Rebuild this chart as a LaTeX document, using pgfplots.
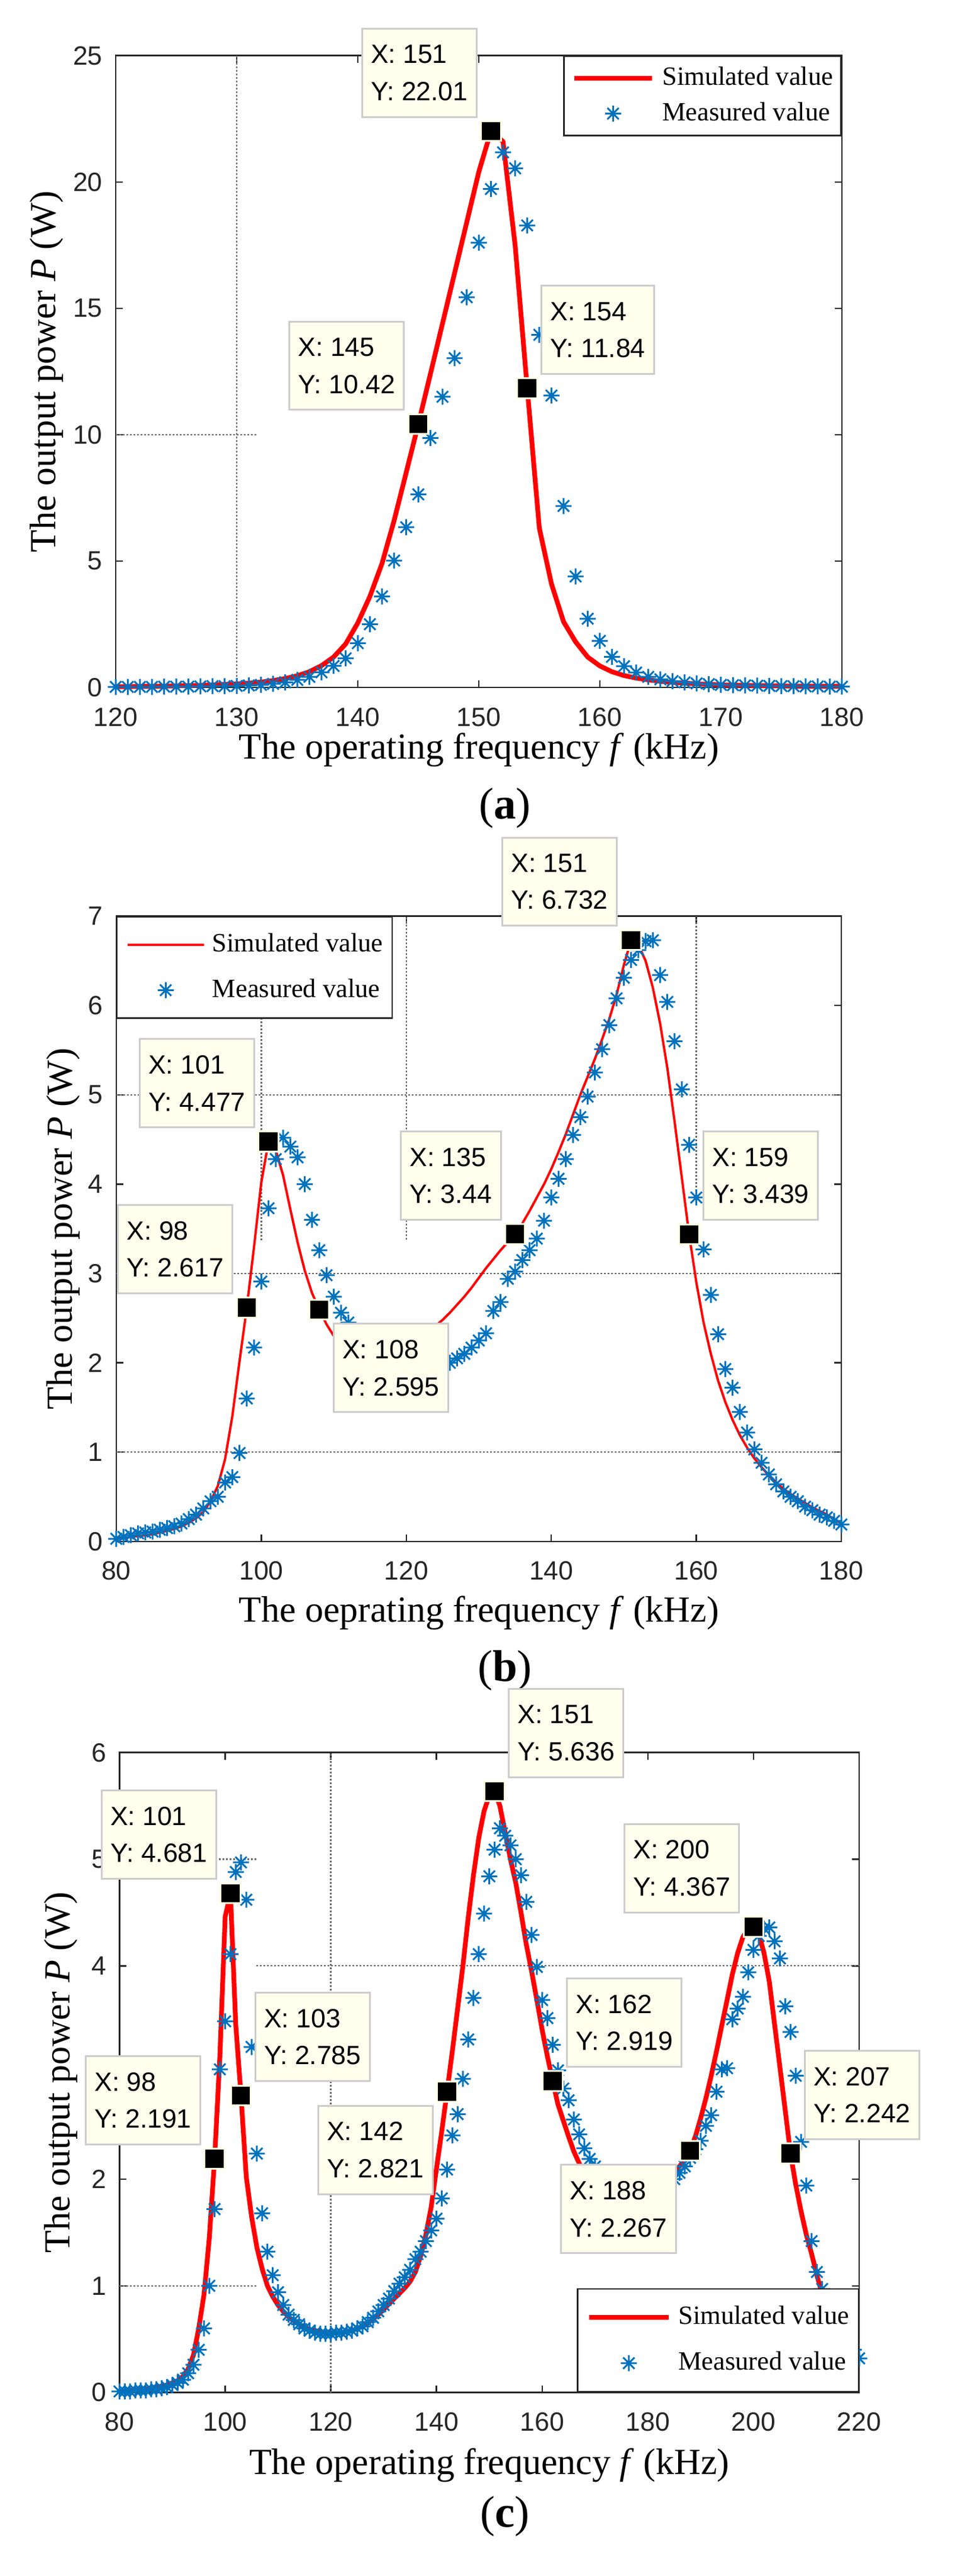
\documentclass[border=0pt]{standalone}
\usepackage{fontspec}
\setmainfont{Liberation Serif}
\newfontfamily\arialf{Liberation Sans}
\usepackage{pgfplots}
\pgfplotsset{compat=1.18}

\definecolor{axcol}{rgb}{0.15,0.15,0.15}
\definecolor{mblue}{rgb}{0,0.447,0.741}
\definecolor{tipfill}{rgb}{1,1,0.93}
\definecolor{tipedge}{rgb}{0.8,0.8,0.8}
\definecolor{sqedge}{rgb}{1,1,0.88}
\definecolor{gridc}{rgb}{0.4,0.4,0.4}

\newcommand\tickfont{\arialf\fontsize{8.9}{10}\selectfont}
\newcommand\tipfont{\arialf\fontsize{8.9}{12.5}\selectfont}
\newcommand\legfont{\fontsize{8.9}{10}\selectfont}
\newcommand\labfont{\fontsize{12.4}{14}\selectfont}
\newcommand\capfont{\fontsize{15}{18}\selectfont}

% MATLAB style asterisk (plus and cross)
\pgfdeclareplotmark{ast8}{%
  \pgfpathmoveto{\pgfqpoint{-\pgfplotmarksize}{0pt}}%
  \pgfpathlineto{\pgfqpoint{\pgfplotmarksize}{0pt}}%
  \pgfpathmoveto{\pgfqpoint{0pt}{-\pgfplotmarksize}}%
  \pgfpathlineto{\pgfqpoint{0pt}{\pgfplotmarksize}}%
  \pgfpathmoveto{\pgfqpoint{-0.7071\pgfplotmarksize}{-0.7071\pgfplotmarksize}}%
  \pgfpathlineto{\pgfqpoint{0.7071\pgfplotmarksize}{0.7071\pgfplotmarksize}}%
  \pgfpathmoveto{\pgfqpoint{-0.7071\pgfplotmarksize}{0.7071\pgfplotmarksize}}%
  \pgfpathlineto{\pgfqpoint{0.7071\pgfplotmarksize}{-0.7071\pgfplotmarksize}}%
  \pgfusepathqstroke}

\pgfplotsset{
  matax/.style={scale only axis, anchor=south west, clip=false,
    axis line style={draw=axcol, line width=0.5pt},
    tick style={draw=axcol, line width=0.5pt},
    major tick length=2.4pt, tick align=inside, tick pos=both,
    ticklabel style={font=\tickfont, text=axcol},
    xticklabel style={inner sep=0pt, yshift=-6.6pt},
    yticklabel style={inner sep=0pt, xshift=-4.3pt},
    /pgf/number format/assume math mode=true,
    legend cell align=left},
  matleg/.style n args={5}{legend style={draw=axcol, line width=0.5pt, fill=white,
      font=\legfont, inner xsep=#1, inner ysep=#2, row sep=#3, column sep=#4,
      nodes={inner sep=0pt}},
    legend image code/.code={\draw[mark repeat=2,mark phase=2,##1]
      plot coordinates {(0pt,0pt) (#5/2,0pt) (#5,0pt)};}},
  gridln/.style={forget plot, gridc, line width=0.45pt, dash pattern=on 0.6pt off 0.6pt},
  simthick/.style={red, line width=1.6pt, line join=round, mark=none},
  simthin/.style={red, line width=0.8pt, line join=round, mark=none},
  meas/.style={only marks, mark=ast8, mark size=2.7pt, mblue, mark options={line width=0.6pt}},
  tipsq/.style={forget plot, only marks, mark=square*, mark size=3.35pt,
    mark options={fill=black, draw=sqedge, line width=0.6pt}}
}
\tikzset{
  dtip/.style={draw=tipedge, line width=0.6pt, fill=tipfill, font=\tipfont, align=left,
    inner xsep=3pt, inner ysep=5.5pt, text=black},
  tipNW/.style={dtip, anchor=south east, xshift=-4.5pt, yshift=4.5pt},
  tipNE/.style={dtip, anchor=south west, xshift=4.5pt, yshift=4.5pt},
  tipSW/.style={dtip, anchor=north east, xshift=-4.5pt, yshift=-4.5pt},
  tipSE/.style={dtip, anchor=north west, xshift=4.5pt, yshift=-4.5pt}
}

\begin{document}
\begin{tikzpicture}
\useasboundingbox (0,0) rectangle (323.4pt,868.6pt);

%% ---------------- (a) ----------------
\begin{axis}[matax, at={(39pt,636.8pt)}, width=244.8pt, height=213.04pt,
  xmin=120, xmax=180, ymin=0, ymax=25,
  xtick={120,130,...,180}, ytick={0,5,...,25},
  matleg={2.7pt}{3.6pt}{4.2pt}{2.7pt}{26.2pt},
  legend style={at={(1,1)}, anchor=north east}]
\addplot[gridln] coordinates {(130,0)(130,25)};
\addplot[gridln] coordinates {(120,10)(131.6,10)};
\addplot[simthick] coordinates {
(120,0.03)(121,0.03)(122,0.04)(123,0.04)(124,0.05)(125,0.06)(126,0.07)(127,0.08)(128,0.1)(129,0.12)
(130,0.14)(131,0.17)(132,0.21)(133,0.27)(134,0.35)(135,0.46)(136,0.62)(137,0.86)(138,1.2)(139,1.72)
(140,2.55)(141,3.6)(142,4.9)(143,6.6)(144,8.5)(145,10.42)(146,12.4)(147,14.4)(148,16.4)(149,18.4)
(150,20.4)(151,22.01)(152,21.6)(153,17.5)(154,11.84)(155,6.3)(156,4.1)(157,2.6)(158,1.8)(159,1.2)
(160,0.85)(161,0.62)(162,0.47)(163,0.37)(164,0.3)(165,0.24)(166,0.2)(167,0.17)(168,0.14)(169,0.12)
(170,0.1)(171,0.09)(172,0.08)(173,0.07)(174,0.06)(175,0.06)(176,0.05)(177,0.05)(178,0.04)(179,0.04)(180,0.04)};
\addplot[meas] coordinates {
(120,0.02)(121,0.02)(122,0.02)(123,0.02)(124,0.03)(125,0.03)(126,0.03)(127,0.04)(128,0.05)(129,0.05)
(130,0.06)(131,0.08)(132,0.1)(133,0.14)(134,0.2)(135,0.3)(136,0.42)(137,0.6)(138,0.85)(139,1.15)
(140,1.75)(141,2.5)(142,3.6)(143,5.02)(144,6.34)(145,7.64)(146,9.87)(147,11.5)(148,13.03)(149,15.44)
(150,17.6)(151,19.72)(152,21.17)(153,20.54)(154,18.28)(155,13.95)(156,11.55)(157,7.18)(158,4.39)(159,2.72)
(160,1.84)(161,1.21)(162,0.84)(163,0.59)(164,0.42)(165,0.32)(166,0.25)(167,0.2)(168,0.16)(169,0.13)
(170,0.1)(171,0.09)(172,0.08)(173,0.07)(174,0.06)(175,0.05)(176,0.05)(177,0.04)(178,0.04)(179,0.03)(180,0.03)};
\addplot[tipsq] coordinates {(145,10.42)(151,22.01)(154,11.84)};
\coordinate (a145) at (axis cs:145,10.42);
\coordinate (a151) at (axis cs:151,22.01);
\coordinate (a154) at (axis cs:154,11.84);
\legend{Simulated value, Measured value}
\end{axis}
\node[tipNW] at (a151) {X: 151\\Y: 22.01};
\node[tipNW] at (a145) {X: 145\\Y: 10.42};
\node[tipNE] at (a154) {X: 154\\Y: 11.84};
\node[font=\labfont, anchor=base] at (161.4pt,612.6pt) {The operating frequency \textit{f} (kHz)};
\node[font=\labfont, anchor=base, rotate=90] at (18.6pt,743.32pt) {The output power \textit{P} (W)};
\node[font=\capfont, anchor=base] at (170.2pt,592.4pt) {(\textbf{a})};

%% ---------------- (b) ----------------
\begin{axis}[matax, at={(39.2pt,348.84pt)}, width=244.4pt, height=210.84pt,
  xmin=80, xmax=180, ymin=0, ymax=7,
  xtick={80,100,...,180}, ytick={0,1,...,7},
  matleg={3.1pt}{5.6pt}{7.6pt}{2.4pt}{25.8pt},
  legend style={at={(0,1)}, anchor=north west}]
\addplot[gridln] coordinates {(80,1)(180,1)};
\addplot[gridln] coordinates {(80,3)(180,3)};
\addplot[gridln] coordinates {(80,5)(180,5)};
\addplot[gridln] coordinates {(100,3.37)(100,7)};
\addplot[gridln] coordinates {(120,3.38)(120,7)};
\addplot[gridln] coordinates {(160,3.8)(160,7)};
\addplot[simthin] coordinates {
(80,0.03)(81,0.04)(82,0.05)(83,0.06)(84,0.07)(85,0.08)(86,0.1)(87,0.12)(88,0.14)(89,0.17)
(90,0.21)(91,0.26)(92,0.33)(93,0.45)(94,0.62)(95,0.92)(96,1.4)(97,2.02)(98,2.617)(99,3.3)
(100,4.02)(101,4.477)(102,4.38)(103,4.1)(104,3.72)(105,3.35)(106,3.03)(107,2.78)(108,2.595)(109,2.43)
(110,2.3)(111,2.22)(112,2.17)(113,2.14)(114,2.13)(115,2.13)(116,2.14)(117,2.16)(118,2.18)(119,2.21)
(120,2.24)(121,2.27)(122,2.31)(123,2.35)(124,2.41)(125,2.48)(126,2.56)(127,2.65)(128,2.74)(129,2.84)
(130,2.95)(131,3.06)(132,3.16)(133,3.26)(134,3.35)(135,3.44)(136,3.56)(137,3.7)(138,3.85)(139,4.0)
(140,4.17)(141,4.36)(142,4.56)(143,4.78)(144,5.0)(145,5.2)(146,5.4)(147,5.62)(148,5.85)(149,6.12)
(150,6.45)(151,6.732)(152,6.68)(153,6.5)(154,6.2)(155,5.8)(156,5.3)(157,4.7)(158,4.07)(159,3.439)
(160,2.9)(161,2.45)(162,2.1)(163,1.8)(164,1.56)(165,1.36)(166,1.19)(167,1.05)(168,0.93)(169,0.83)
(170,0.74)(171,0.66)(172,0.59)(173,0.53)(174,0.48)(175,0.43)(176,0.38)(177,0.34)(178,0.3)(179,0.25)(180,0.2)};
\addplot[meas] coordinates {
(80,0.03)(81,0.05)(82,0.07)(83,0.09)(84,0.1)(85,0.11)(86,0.13)(87,0.15)(88,0.17)(89,0.2)
(90,0.25)(91,0.3)(92,0.37)(93,0.45)(94,0.5)(95,0.66)(96,0.72)(97,0.99)(98,1.6)(99,2.17)
(100,2.91)(101,3.73)(102,4.28)(103,4.52)(104,4.42)(105,4.3)(106,4.0)(107,3.6)(108,3.26)(109,2.98)
(110,2.74)(111,2.56)(112,2.45)(113,2.35)(114,2.27)(115,2.2)(116,2.14)(117,2.09)(118,2.05)(119,2.02)
(120,2.0)(121,1.98)(122,1.97)(123,1.97)(124,1.97)(125,1.98)(126,2.0)(127,2.05)(128,2.1)(129,2.17)
(130,2.25)(131,2.33)(132,2.58)(133,2.68)(134,2.94)(135,3.02)(136,3.15)(137,3.26)(138,3.39)(139,3.59)
(140,3.85)(141,4.06)(142,4.28)(143,4.55)(144,4.75)(145,4.98)(146,5.25)(147,5.51)(148,5.78)(149,6.08)
(150,6.31)(151,6.51)(152,6.62)(153,6.72)(154,6.73)(155,6.34)(156,6.04)(157,5.6)(158,5.06)(159,4.44)
(160,3.85)(161,3.27)(162,2.76)(163,2.32)(164,1.93)(165,1.72)(166,1.45)(167,1.22)(168,1.03)(169,0.88)
(170,0.75)(171,0.64)(172,0.56)(173,0.5)(174,0.45)(175,0.39)(176,0.35)(177,0.3)(178,0.27)(179,0.23)(180,0.19)};
\addplot[tipsq] coordinates {(98,2.617)(101,4.477)(108,2.595)(135,3.44)(151,6.732)(159,3.439)};
\coordinate (b98) at (axis cs:98,2.617);
\coordinate (b101) at (axis cs:101,4.477);
\coordinate (b108) at (axis cs:108,2.595);
\coordinate (b135) at (axis cs:135,3.44);
\coordinate (b151) at (axis cs:151,6.732);
\coordinate (b159) at (axis cs:159,3.439);
\legend{Simulated value, Measured value}
\end{axis}
\node[tipNW] at (b151) {X: 151\\Y: 6.732};
\node[tipNW] at (b101) {X: 101\\Y: 4.477};
\node[tipNW] at (b98) {X: 98\\Y: 2.617};
\node[tipSE] at (b108) {X: 108\\Y: 2.595};
\node[tipNW] at (b135) {X: 135\\Y: 3.44};
\node[tipNE] at (b159) {X: 159\\Y: 3.439};
\node[font=\labfont, anchor=base] at (161.4pt,321.64pt) {The oeprating frequency \textit{f} (kHz)};
\node[font=\labfont, anchor=base, rotate=90] at (24.2pt,454.26pt) {The output power \textit{P} (W)};
\node[font=\capfont, anchor=base] at (170.2pt,301.6pt) {(\textbf{b})};

%% ---------------- (c) ----------------
\begin{axis}[matax, at={(40.28pt,61.88pt)}, width=249.32pt, height=215.78pt,
  xmin=80, xmax=220, ymin=0, ymax=6,
  xtick={80,100,...,220}, ytick={0,1,...,6},
  matleg={3.1pt}{5.8pt}{7.7pt}{2.5pt}{26.8pt},
  legend style={at={(1,0)}, anchor=south east}]
\addplot[gridln] coordinates {(120,0)(120,6)};
\addplot[gridln] coordinates {(105.9,4)(220,4)};
\addplot[gridln] coordinates {(80,5)(105.9,5)};
\addplot[gridln] coordinates {(80,1)(105.9,1)};
\addplot[simthick] coordinates {
(80,0.01)(81,0.01)(82,0.02)(83,0.02)(84,0.03)(85,0.03)(86,0.04)(87,0.05)(88,0.06)(89,0.07)
(90,0.09)(91,0.11)(92,0.15)(93,0.22)(94,0.35)(95,0.6)(96,0.92)(97,1.45)(98,2.191)(99,3.15)
(100,4.46)(101,4.681)(102,3.45)(103,2.785)(104,2.02)(105,1.65)(106,1.36)(107,1.16)(108,1.0)(109,0.9)
(110,0.82)(111,0.76)(112,0.71)(113,0.67)(114,0.64)(115,0.61)(116,0.59)(117,0.58)(118,0.57)(119,0.56)
(120,0.56)(121,0.56)(122,0.56)(123,0.57)(124,0.58)(125,0.6)(126,0.62)(127,0.65)(128,0.69)(129,0.73)
(130,0.78)(131,0.83)(132,0.88)(133,0.93)(134,0.98)(135,1.04)(136,1.13)(137,1.28)(138,1.48)(139,1.74)
(140,2.1)(141,2.45)(142,2.821)(143,3.2)(144,3.6)(145,4.0)(146,4.45)(147,4.85)(148,5.2)(149,5.45)
(150,5.6)(151,5.636)(152,5.5)(153,5.25)(154,5.0)(155,4.78)(156,4.5)(157,4.2)(158,3.95)(159,3.68)
(160,3.4)(161,3.15)(162,2.919)(163,2.7)(164,2.55)(165,2.4)(166,2.26)(167,2.15)(168,2.05)(169,1.98)
(170,1.92)(171,1.88)(172,1.85)(173,1.83)(174,1.82)(175,1.81)(176,1.81)(177,1.82)(178,1.83)(179,1.85)
(180,1.87)(181,1.9)(182,1.93)(183,1.97)(184,2.01)(185,2.06)(186,2.12)(187,2.18)(188,2.267)(189,2.4)
(190,2.57)(191,2.76)(192,2.97)(193,3.2)(194,3.44)(195,3.68)(196,3.92)(197,4.12)(198,4.27)(199,4.35)
(200,4.367)(201,4.3)(202,4.12)(203,3.85)(204,3.45)(205,3.05)(206,2.65)(207,2.242)(208,1.95)(209,1.7)
(210,1.48)(211,1.3)(212,1.1)(213,0.92)(214,0.78)(215,0.66)(216,0.56)(217,0.48)(218,0.42)(219,0.37)(220,0.33)};
\addplot[meas] coordinates {
(80,0.01)(81,0.01)(82,0.01)(83,0.02)(84,0.02)(85,0.02)(86,0.03)(87,0.03)(88,0.04)(89,0.05)
(90,0.07)(91,0.09)(92,0.12)(93,0.18)(94,0.26)(95,0.4)(96,0.6)(97,1.0)(98,1.72)(99,3.03)
(100,3.48)(101,4.11)(102,4.88)(103,4.97)(104,4.62)(105,3.24)(106,2.24)(107,1.68)(108,1.32)(109,1.1)
(110,0.94)(111,0.82)(112,0.73)(113,0.68)(114,0.64)(115,0.6)(116,0.58)(117,0.56)(118,0.55)(119,0.55)
(120,0.55)(121,0.56)(122,0.56)(123,0.57)(124,0.58)(125,0.6)(126,0.62)(127,0.66)(128,0.7)(129,0.76)
(130,0.82)(131,0.88)(132,0.95)(133,1.02)(134,1.08)(135,1.15)(136,1.25)(137,1.32)(138,1.42)(139,1.52)
(140,1.63)(141,1.82)(142,2.09)(143,2.41)(144,2.61)(145,2.94)(146,3.31)(147,3.7)(148,4.11)(149,4.49)
(150,4.84)(151,5.09)(152,5.29)(153,5.22)(154,5.13)(155,5.0)(156,4.85)(157,4.6)(158,4.29)(159,3.99)
(160,3.68)(161,3.51)(162,3.26)(163,3.02)(164,2.85)(165,2.74)(166,2.56)(167,2.42)(168,2.29)(169,2.19)
(170,2.12)(171,2.06)(172,2.02)(173,1.98)(174,1.95)(175,1.93)(176,1.92)(177,1.91)(178,1.9)(179,1.9)
(180,1.91)(181,1.92)(182,1.93)(183,1.95)(184,1.97)(185,2.0)(186,2.06)(187,2.12)(188,2.2)(189,2.28)
(190,2.36)(191,2.5)(192,2.6)(193,2.82)(194,3.03)(195,3.04)(196,3.5)(197,3.6)(198,3.71)(199,3.94)
(200,4.15)(201,4.28)(202,4.35)(203,4.36)(204,4.23)(205,4.07)(206,3.62)(207,3.38)(208,2.97)(209,2.35)
(210,1.94)(211,1.42)(212,1.13)(213,0.97)(214,0.89)(215,0.8)(216,0.68)(217,0.58)(218,0.48)(219,0.4)(220,0.32)};
\addplot[tipsq] coordinates {(98,2.191)(101,4.681)(103,2.785)(142,2.821)(151,5.636)(162,2.919)(188,2.267)(200,4.367)(207,2.242)};
\coordinate (c98) at (axis cs:98,2.191);
\coordinate (c101) at (axis cs:101,4.681);
\coordinate (c103) at (axis cs:103,2.785);
\coordinate (c142) at (axis cs:142,2.821);
\coordinate (c151) at (axis cs:151,5.636);
\coordinate (c162) at (axis cs:162,2.919);
\coordinate (c188) at (axis cs:188,2.267);
\coordinate (c200) at (axis cs:200,4.367);
\coordinate (c207) at (axis cs:207,2.242);
\legend{Simulated value, Measured value}
\end{axis}
\node[tipNE] at (c151) {X: 151\\Y: 5.636};
\node[tipNW] at (c101) {X: 101\\Y: 4.681};
\node[tipNW] at (c98) {X: 98\\Y: 2.191};
\node[tipNE] at (c103) {X: 103\\Y: 2.785};
\node[tipSW] at (c142) {X: 142\\Y: 2.821};
\node[tipNE] at (c162) {X: 162\\Y: 2.919};
\node[tipSW] at (c188) {X: 188\\Y: 2.267};
\node[tipNW] at (c200) {X: 200\\Y: 4.367};
\node[tipNE] at (c207) {X: 207\\Y: 2.242};
\node[font=\labfont, anchor=base] at (164.94pt,34.38pt) {The operating frequency \textit{f} (kHz)};
\node[font=\labfont, anchor=base, rotate=90] at (23.58pt,169.77pt) {The output power \textit{P} (W)};
\node[font=\capfont, anchor=base] at (170.2pt,16.4pt) {(\textbf{c})};
\end{tikzpicture}
\end{document}
